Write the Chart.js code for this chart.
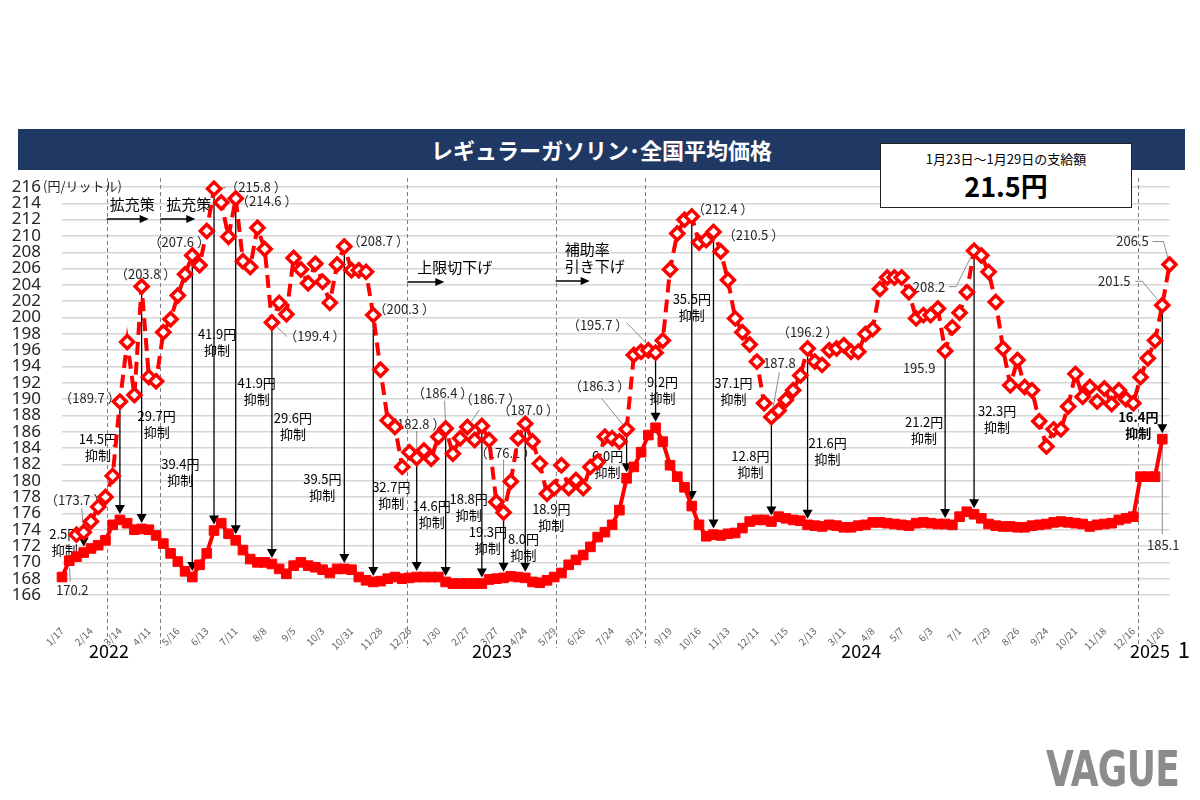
<!DOCTYPE html>
<html><head><meta charset="utf-8">
<script src="https://cdn.jsdelivr.net/npm/chart.js@4.4.1/dist/chart.umd.min.js"></script>
<style>
html,body{margin:0;padding:0;background:#fff;}
#wrap{position:relative;width:1200px;height:800px;overflow:hidden;background:#fff;}
#c{position:absolute;left:0;top:0;}
#bar{position:absolute;left:18px;top:129px;width:1167px;height:41px;background:#203864;color:#fff;
 font:bold 22px 'Noto Sans CJK JP',sans-serif;text-align:center;line-height:41px;}
#box{position:absolute;left:880px;top:143px;width:250px;height:63px;background:#fff;border:1.5px solid #222;
 font-family:'Noto Sans CJK JP',sans-serif;color:#000;text-align:center;}
#box .l1{position:absolute;left:0;right:0;top:6px;font-size:13px;line-height:18px;}
#box .l2{position:absolute;left:0;right:0;top:24px;font-size:27px;font-weight:bold;line-height:36px;}
#vague{position:absolute;left:1046px;top:740px;font:bold 50px 'DejaVu Sans',sans-serif;color:#8c8c8c;
 transform:scaleX(0.72);transform-origin:left top;letter-spacing:-1px;}
</style></head>
<body><div id="wrap">
<canvas id="c" width="1200" height="800"></canvas>
<div id="bar">レギュラーガソリン･全国平均価格</div>
<div id="box"><div class="l1">1月23日～1月29日の支給額</div><div class="l2">21.5円</div></div>
<div id="vague">VAGUE</div>
</div>
<script>
// ---------- data ----------
const weeks = ['1/17','1/24','1/31','2/7','2/14','2/21','2/28','3/7','3/14','3/22','3/28','4/4','4/11','4/18','4/25','5/9','5/16','5/23','5/30','6/6','6/13','6/20','6/27','7/4','7/11','7/19','7/25','8/1','8/8','8/15','8/22','8/29','9/5','9/12','9/20','9/26','10/3','10/11','10/17','10/24','10/31','11/7','11/14','11/21','11/28','12/5','12/12','12/19','12/26',
'1/10','1/16','1/23','1/30','2/6','2/13','2/20','2/27','3/6','3/13','3/20','3/27','4/3','4/10','4/17','4/24','5/8','5/15','5/22','5/29','6/5','6/12','6/19','6/26','7/3','7/10','7/18','7/24','7/31','8/7','8/14','8/21','8/28','9/4','9/11','9/19','9/25','10/2','10/10','10/16','10/23','10/30','11/6','11/13','11/20','11/27','12/4','12/11','12/18','12/25',
'1/9','1/15','1/22','1/29','2/5','2/13','2/19','2/26','3/4','3/11','3/18','3/25','4/1','4/8','4/15','4/22','4/30','5/7','5/13','5/20','5/27','6/3','6/10','6/17','6/24','7/1','7/8','7/16','7/22','7/29','8/5','8/13','8/19','8/26','9/2','9/9','9/17','9/24','9/30','10/7','10/15','10/21','10/28','11/5','11/11','11/18','11/25','12/2','12/9','12/16','12/23',
'1/6','1/14','1/20','1/27'];

// retail price with subsidy (円/L)
const withSubsidy = [
168.2,170.2,170.7,171.2,171.7,172.1,172.7,174.6,175.2,174.8,
174.0,174.1,174.0,173.3,172.3,171.1,170.1,168.9,168.2,169.7,
171.1,173.9,174.8,173.5,172.7,171.5,170.4,170.0,170.0,169.8,
169.2,168.6,169.6,170.0,169.6,169.4,169.1,168.7,169.2,169.2,
169.1,168.2,167.8,167.6,167.7,168.0,168.2,168.0,168.1,168.2,
168.2,168.2,168.2,167.6,167.4,167.4,167.4,167.4,167.4,167.9,
168.0,168.1,168.3,168.2,168.1,167.6,167.5,167.8,168.2,168.7,
169.7,170.3,170.9,171.9,173.1,173.7,174.6,176.4,180.3,181.7,
183.5,185.6,186.5,184.8,181.9,180.5,179.2,176.9,174.6,173.2,
173.4,173.3,173.5,173.6,174.2,175.0,175.2,175.2,175.0,175.6,
175.4,175.2,175.1,174.6,174.5,174.4,174.6,174.5,174.3,174.3,
174.5,174.6,174.9,174.9,174.8,174.7,174.6,174.5,174.8,174.9,
174.8,174.7,174.7,174.6,175.6,176.2,175.9,175.4,174.7,174.5,
174.4,174.4,174.3,174.3,174.5,174.6,174.7,174.9,175.0,174.9,
174.8,174.7,174.4,174.6,174.7,174.8,175.2,175.4,175.6,180.5,
180.5,180.5,185.1,null];

// price without subsidy (円/L)
const withoutSubsidy = [
null,null,173.4,173.7,175.0,176.8,178.0,180.6,189.7,197.0,
190.5,203.8,192.7,192.2,198.2,199.8,202.7,205.3,207.6,206.4,
210.6,215.8,214.1,209.9,214.6,206.9,206.2,211.0,208.4,199.4,
201.8,200.4,207.3,205.9,204.2,206.6,204.4,201.8,206.5,208.7,
205.8,205.8,205.6,200.3,193.6,187.4,186.6,181.7,183.5,182.8,
183.7,182.7,185.4,186.4,183.3,185.2,186.6,185.0,186.7,185.0,
177.4,176.1,179.9,185.2,187.0,184.8,182.1,178.4,179.1,181.9,
179.1,180.1,179.1,181.7,182.3,185.4,185.2,184.8,186.3,195.4,
195.8,196.0,195.7,197.2,205.9,210.3,212.0,212.4,209.2,209.5,
210.5,208.1,204.6,199.9,198.2,196.7,194.6,189.5,187.8,188.6,
189.9,191.1,192.9,196.2,194.6,194.2,196.0,196.2,196.6,195.8,
195.8,198.0,198.6,203.5,204.9,204.9,204.9,203.1,199.9,200.3,
200.3,201.1,195.9,198.8,200.6,203.1,208.2,207.6,205.6,201.9,
196.2,191.7,194.8,191.5,191.1,187.3,184.2,186.3,186.3,189.1,
193.1,190.3,191.5,189.7,191.3,189.4,191.1,190.0,189.5,192.7,
195.0,197.2,201.5,206.5];

const yTicks = [166,216,2];
const yUnit = '(円/リットル)';
const years = ['2022','2023','2024','2025'];

// suppression arrows: [week index, amount]
const suppression = [[3,'2.5'],[8,'14.5'],[11,'29.7'],[18,'39.4'],[21,'41.9'],[24,'41.9'],[29,'29.6'],[39,'39.5'],[43,'32.7'],
 [49,'14.6'],[53,'18.8'],[58,'19.3'],[61,'8.0'],[64,'18.9'],[78,'6.0'],[82,'9.2'],[87,'35.5'],[90,'37.1'],[98,'12.8'],
 [103,'21.6'],[122,'21.2'],[126,'32.3'],[152,'16.4']];

// value notes: [text, series, week index]
const valueNotes = [['170.2','s',1],['（173.7 ）','d',3],['（189.7 ）','d',8],['（203.8 ）','d',11],['（207.6 ）','d',18],
 ['（215.8 ）','d',21],['（214.6 ）','d',24],['（199.4 ）','d',29],['（208.7 ）','d',39],['（200.3 ）','d',43],
 ['（182.8 ）','d',49],['（186.4 ）','d',53],['（186.7 ）','d',56],['（187.0 ）','d',64],['（176.1 ）','d',61],
 ['（186.3 ）','d',78],['（195.7 ）','d',82],['（212.4 ）','d',87],['（210.5 ）','d',90],['187.8','d',98],
 ['（196.2 ）','d',103],['195.9','d',122],['208.2','d',126],['206.5','d',153],['201.5','d',152],['185.1','s',152]];

// policy notes
const policyNotes = [['拡充策'],['拡充策'],['上限切下げ'],['補助率','引き下げ']];

// ---------- layout (positions / offsets, pixels or fractional week index) ----------
const policyBreaks = [6.17, 13.58, 47.7, 68.2, 80.5, 148.6];
const policyLayout = [{b:0,dx:3,dy:17,arrow:42},{b:1,dx:6,dy:17,arrow:35},{b:2,dx:10,dy:80,arrow:37},{b:3,dx:9,dy:62,arrow:34}];
const suppressionOffsets = [[-19,-18.5],[-22,-81],[15,-113],[-12,-113],[3,-196],[21,-157],[21,-146],[-22,-90],[18,-95],
 [15,-71],[23,-83],[6,-52],[20,-39],[26,-69],[-19,-22],[7,-46],[0,-207],[20,-152],[-21,-65],[20,-82],[-21,-102],[23,-103],[-24,-22]];
const valueNoteLayout = [
 {d:[3,29],l:[[1,21]]},{d:[-8,-32],l:[[-2,-24]]},{d:[-30,-4]},{d:[4,-12]},{d:[-13,-13]},
 {d:[42,-2],l:[[12,-1]]},{d:[31,3]},{d:[43,14],l:[[15,14]]},{d:[34,-6]},{d:[31,-6]},
 {d:[-2,-34],l:[[0,-27]]},{d:[-3,-35],l:[[-1,-28]]},{d:[23,-28],l:[[12,-17]]},{d:[3,-14]},{d:[2,-60],l:[[0,-53]]},
 {d:[-27,-43],l:[[-25,-31]]},{d:[-58,-28],l:[[-29,-30]]},{d:[31,-7]},{d:[40,3]},{d:[8,-54],l:[[8,-45]]},
 {d:[0,-17]},{d:[-26,17]},{d:[-45,36],l:[[-18,36],[-25,36]]},{d:[-37,-23],l:[[-6,-23],[-17,-23]]},
 {d:[-48,-24],l:[[-20,-24],[-27,-24]]},{d:[1,106],l:[[0,95]]}];
const yearPos = [6.5, 59.4, 110.4, 150.3];

const JP = "'Noto Sans CJK JP','Noto Sans',sans-serif";
Chart.defaults.font.family = JP;

function arrowHead(ctx, x, y, dir, w, h) {
  ctx.beginPath();
  if (dir === 'down') { ctx.moveTo(x - w/2, y - h); ctx.lineTo(x + w/2, y - h); ctx.lineTo(x, y); }
  else { ctx.moveTo(x - h, y - w/2); ctx.lineTo(x - h, y + w/2); ctx.lineTo(x, y); }
  ctx.closePath(); ctx.fill();
}

const notes = {
  id: 'notes',
  beforeDatasetsDraw(chart) {
    const {ctx, chartArea: ca, scales: {x, y}} = chart;
    ctx.save();
    // policy break lines
    ctx.strokeStyle = '#7f7f7f'; ctx.lineWidth = 1; ctx.setLineDash([4, 3]);
    policyBreaks.forEach(p => {
      const xp = Math.round(x.getPixelForValue(p)) + 0.5;
      ctx.beginPath(); ctx.moveTo(xp, ca.top - 9); ctx.lineTo(xp, ca.bottom + 53); ctx.stroke();
    });
    ctx.setLineDash([]);
    // policy notes
    ctx.fillStyle = '#000'; ctx.strokeStyle = '#000';
    ctx.font = '15px ' + JP; ctx.textAlign = 'left'; ctx.textBaseline = 'middle';
    policyNotes.forEach((lines, k) => {
      const L = policyLayout[k];
      const xb = x.getPixelForValue(policyBreaks[L.b]);
      lines.forEach((t, j) => ctx.fillText(t, xb + L.dx, ca.top + L.dy + j * 17));
      const ay = ca.top + L.dy + (lines.length - 1) * 17 + 15;
      ctx.lineWidth = 1.5;
      ctx.beginPath(); ctx.moveTo(xb, ay); ctx.lineTo(xb + L.arrow - 8, ay); ctx.stroke();
      arrowHead(ctx, xb + L.arrow, ay, 'right', 8, 9);
    });
    // suppression arrows
    suppression.forEach(([i, amt], k) => {
      const xp = x.getPixelForValue(i);
      const yt = y.getPixelForValue(withoutSubsidy[i]);
      const ys = y.getPixelForValue(withSubsidy[i]);
      const tip = ys - 6;
      ctx.strokeStyle = '#000'; ctx.fillStyle = '#000'; ctx.lineWidth = 1.3;
      ctx.beginPath(); ctx.moveTo(xp, yt); ctx.lineTo(xp, tip - 8); ctx.stroke();
      arrowHead(ctx, xp, tip, 'down', 10, 9);
      const [dx, dy] = suppressionOffsets[k];
      ctx.textAlign = 'center'; ctx.textBaseline = 'middle';
      ctx.font = (i === 152 ? 'bold ' : '') + '13px ' + JP;
      ctx.fillText(amt + '円', xp + dx, ys + dy);
      ctx.fillText('抑制', xp + dx, ys + dy + 16);
    });
    // value notes
    valueNotes.forEach(([t, s, i], k) => {
      const L = valueNoteLayout[k];
      const arr = s === 'd' ? withoutSubsidy : withSubsidy;
      const xp = x.getPixelForValue(i), yp = y.getPixelForValue(arr[i]);
      if (L.l) {
        ctx.strokeStyle = '#8c8c8c'; ctx.lineWidth = 1;
        const first = L.l[0];
        const len = Math.hypot(first[0], first[1]);
        const gx = xp + first[0] / len * 7, gy = yp + first[1] / len * 7;
        ctx.beginPath(); ctx.moveTo(gx, gy);
        L.l.forEach(p => ctx.lineTo(xp + p[0], yp + p[1]));
        ctx.stroke();
      }
      ctx.fillStyle = '#262626'; ctx.font = '13px ' + JP;
      ctx.textAlign = 'center'; ctx.textBaseline = 'middle';
      ctx.fillText(t, xp + L.d[0], yp + L.d[1]);
    });
    // axis unit
    ctx.fillStyle = '#262626'; ctx.font = '13px ' + JP; ctx.textAlign = 'left';
    ctx.fillText(yUnit, ca.left - 19, ca.top - 1);
    // years
    ctx.fillStyle = '#000'; ctx.font = '18px ' + JP; ctx.textAlign = 'center';
    years.forEach((t, k) => ctx.fillText(t, x.getPixelForValue(yearPos[k]), ca.bottom + 56));
    ctx.font = '22px ' + JP;
    ctx.fillText('1', x.getPixelForValue(yearPos[3]) + 34, ca.bottom + 55);
    ctx.restore();
  }
};

new Chart(document.getElementById('c'), {
  type: 'line',
  data: {
    labels: weeks,
    datasets: [
      { label: '補助なし', data: withoutSubsidy, borderColor: '#ff0000', borderWidth: 4, borderDash: [13, 7],
        pointStyle: 'rectRot', pointRadius: 6.5, pointBorderWidth: 3.5, pointBorderColor: '#ff0000',
        pointBackgroundColor: '#ffffff', tension: 0, spanGaps: true, clip: false, order: 1 },
      { label: '補助あり', data: withSubsidy, borderColor: '#ff0000', backgroundColor: '#ff0000', borderWidth: 4,
        pointStyle: 'rect', pointRadius: 6.8, pointBorderWidth: 1, pointBackgroundColor: '#ff0000',
        tension: 0, clip: false, order: 2 }
    ]
  },
  options: {
    responsive: false, animation: false,
    layout: { padding: { top: 187, right: 22, left: 0, bottom: 0 } },
    plugins: { legend: { display: false }, tooltip: { enabled: false } },
    scales: {
      x: { type: 'category', offset: false, grid: { display: false }, border: { display: false },
        ticks: { autoSkip: false, minRotation: 45, maxRotation: 45, padding: 22, color: '#666666', font: { size: 10 },
          callback: (v, i) => (i % 4 === 0 ? weeks[i] : '') },
        afterFit: s => { s.height = 205; } },
      y: { min: yTicks[0], max: yTicks[1], border: { display: false },
        grid: { color: '#d6d6d6', lineWidth: 1.5, drawTicks: false },
        ticks: { stepSize: yTicks[2], autoSkip: false, padding: 21, color: '#262626', font: { size: 17, family: "'Noto Sans',sans-serif" } },
        afterFit: s => { s.width = 62; } }
    }
  },
  plugins: [notes]
});
</script>
</body></html>
